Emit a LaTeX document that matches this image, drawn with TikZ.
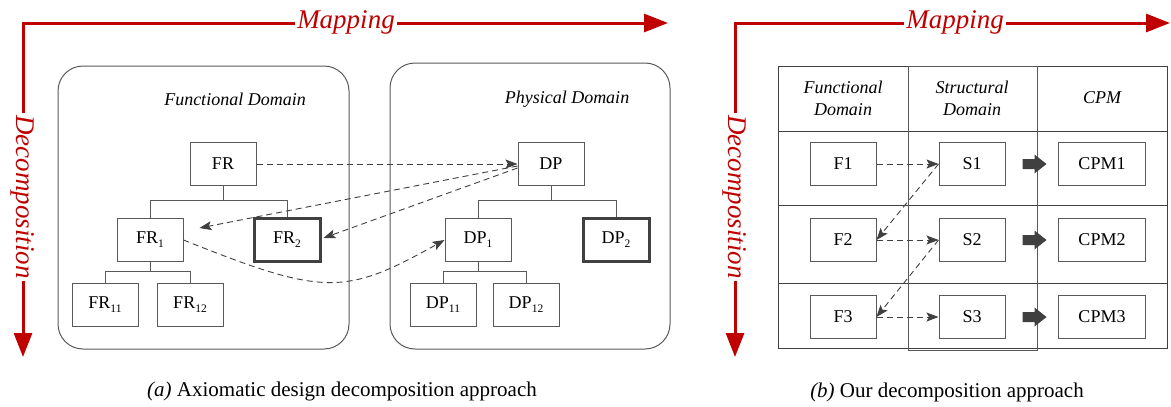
\documentclass[tikz,border=0pt]{standalone}
\usepackage{fontspec}
\setmainfont{Liberation Serif}
\usetikzlibrary{arrows.meta,calc}
\definecolor{myred}{HTML}{C00000}
\definecolor{lc}{HTML}{404040}
\definecolor{bc}{HTML}{595959}
\newcommand{\lsub}[1]{\raisebox{-0.22em}{\fontsize{11.5}{11.5}\selectfont#1}}
\begin{document}
\begin{tikzpicture}[x=1pt,y=-1pt,
  nbox/.style={draw=bc,line width=1pt,minimum width=66pt,minimum height=43pt,inner sep=0pt,font=\fontsize{18}{21}\selectfont},
  thickbox/.style={nbox,draw=lc,line width=3pt},
  cpmbox/.style={nbox,minimum width=87pt},
  treeline/.style={draw=bc,line width=1pt},
  domainbox/.style={draw=bc,line width=1pt,rounded corners=25pt},
  dasharrow/.style={draw=lc,line width=0.9pt,dash pattern=on 6pt off 4pt,-{Stealth[length=12pt,width=9pt,inset=2.5pt]}},
  redline/.style={draw=myred,line width=3pt,line join=miter,{Triangle[length=24pt,width=18pt]}-{Triangle[length=24pt,width=18pt]}},
  redlabel/.style={text=myred,fill=white,inner sep=2pt,font=\fontsize{27}{30}\selectfont\itshape},
  ilabel/.style={font=\fontsize{18}{22}\selectfont\itshape,align=center},
  captxt/.style={font=\fontsize{21}{24}\selectfont,anchor=base},
  blockarrow/.style={fill=lc,draw=none}
]
\useasboundingbox (0,0) rectangle (1171,407);

% ---------- left panel ----------
\coordinate (LD) at (23,357);
\coordinate (LR) at (668,23);
\draw[redline] (LD) |- (LR);
\node[redlabel] (map1) at (346,22) {Mapping};
\node[redlabel,rotate=-90] (dec1) at (23,197) {Decomposition};

\draw[domainbox] (58,66) rectangle (349,349);
\draw[domainbox] (390,63) rectangle (670,349);
\node[ilabel] (fdlab) at (235,99) {Functional Domain};
\node[ilabel] (pdlab) at (567,99) {Physical Domain};

\node[nbox] (FR) at (223,164) {FR};
\node[nbox] (FR1) at (150,240) {FR\lsub{1}};
\node[thickbox] (FR2) at (287,240) {FR\lsub{2}};
\node[nbox] (FR11) at (105,305) {FR\lsub{11}};
\node[nbox] (FR12) at (190,305) {FR\lsub{12}};
\draw[treeline] (FR.south) -- ++(0,14) -| (FR1.north);
\draw[treeline] (FR.south) -- ++(0,14) -| (FR2.north);
\draw[treeline] (FR1.south) -- ++(0,9) -| (FR11.north);
\draw[treeline] (FR1.south) -- ++(0,9) -| (FR12.north);

\node[nbox] (DP) at (551,164) {DP};
\node[nbox] (DP1) at (478,240) {DP\lsub{1}};
\node[thickbox] (DP2) at (616,240) {DP\lsub{2}};
\node[nbox] (DP11) at (443,305) {DP\lsub{11}};
\node[nbox] (DP12) at (526,305) {DP\lsub{12}};
\draw[treeline] (DP.south) -- ++(0,14) -| (DP1.north);
\draw[treeline] (DP.south) -- ++(0,14) -| (DP2.north);
\draw[treeline] (DP1.south) -- ++(0,9) -| (DP11.north);
\draw[treeline] (DP1.south) -- ++(0,9) -| (DP12.north);

\draw[dasharrow] (FR.east) -- (DP.west);
\draw[dasharrow] ([shift={(0,2)}]DP.west) -- ([shift={(16,-12)}]FR1.east);
\draw[dasharrow] ([shift={(0,4)}]DP.west) -- ([shift={(2,-2)}]FR2.east);
\draw[dasharrow] (FR1.east) .. controls +(140,56) and +(-100,56) .. (DP1.west);

\node[captxt] (capa) at (342,396) {\textit{(a)} Axiomatic design decomposition approach};

% ---------- right panel ----------
\coordinate (RD) at (735,357);
\coordinate (RR) at (1170,23);
\draw[redline] (RD) |- (RR);
\node[redlabel] (map2) at (955,22) {Mapping};
\node[redlabel,rotate=-90] (dec2) at (735,197) {Decomposition};

\draw[draw=lc,line width=1pt] (778,66) rectangle (1167,348);
\draw[draw=lc,line width=1pt] (778,131) -- (1167,131);
\draw[draw=lc,line width=1pt] (778,205) -- (1167,205);
\draw[draw=lc,line width=1pt] (778,283) -- (1167,283);
\draw[draw=bc,line width=1pt] (908,66) rectangle (1037,350);

\node[ilabel] (h1) at (843,98) {Functional\\Domain};
\node[ilabel] (h2) at (972,98) {Structural\\Domain};
\node[ilabel] (h3) at (1102,98) {CPM};

\node[nbox] (F1) at (843,164) {F1};
\node[nbox] (S1) at (972,164) {S1};
\node[cpmbox] (C1) at (1102,164) {CPM1};
\node[nbox] (F2) at (843,240) {F2};
\node[nbox] (S2) at (972,240) {S2};
\node[cpmbox] (C2) at (1102,240) {CPM2};
\node[nbox] (F3) at (843,317) {F3};
\node[nbox] (S3) at (972,317) {S3};
\node[cpmbox] (C3) at (1102,317) {CPM3};

\draw[dasharrow] (F1.east) -- (S1.west);
\draw[dasharrow] (S1.west) -- (F2.east);
\draw[dasharrow] (F2.east) -- (S2.west);
\draw[dasharrow] (S2.west) -- (F3.east);
\draw[dasharrow] (F3.east) -- (S3.west);

\foreach \s in {S1,S2,S3}{
  \fill[blockarrow] ($(\s.east)+(17,-5)$) -- ++(12,0) -- ++(0,-4.5) -- ++(12,9.5) -- ++(-12,9.5) -- ++(0,-4.5) -- ++(-12,0) -- cycle;
}

\node[captxt] (capb) at (947,397) {\textit{(b)} Our decomposition approach};
\end{tikzpicture}
\end{document}
